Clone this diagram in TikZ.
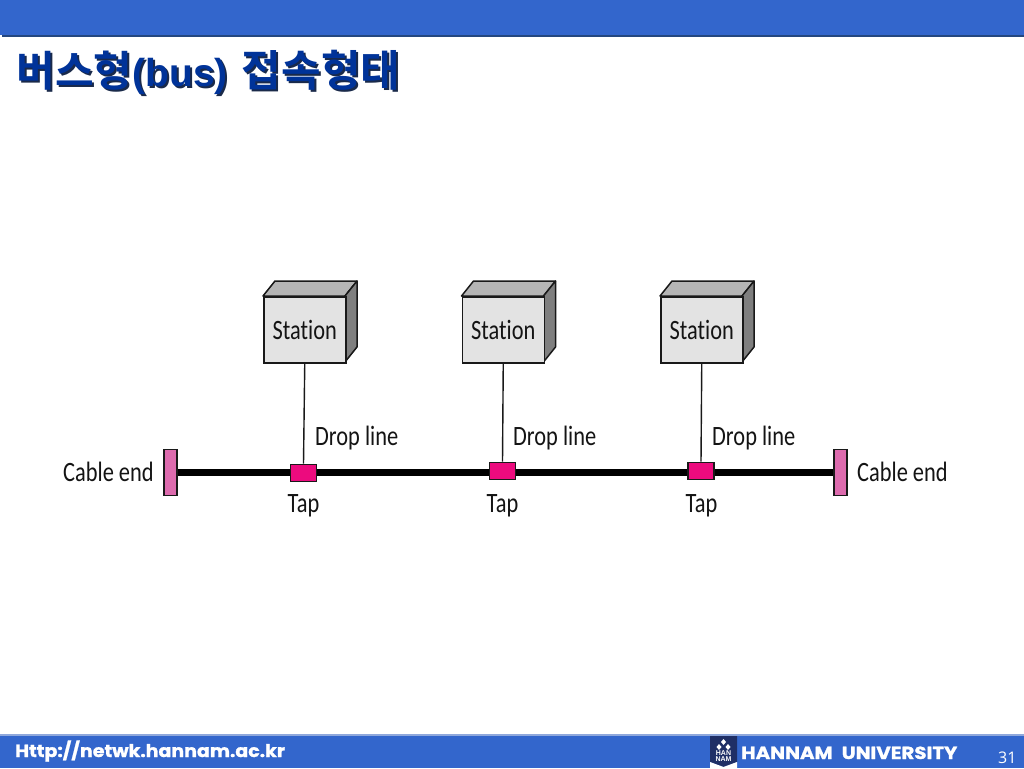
\documentclass[tikz,border=0pt]{standalone}
\usepackage{fontspec}
\setmainfont{Carlito}[FakeStretch=0.8,Ligatures=NoCommon]
\newfontfamily\krfont{Noto Sans CJK KR}[BoldFont={* Bold}]
\newfontfamily\arialfont{Liberation Sans}
\newfontfamily\footfont{Poppins}[BoldFont={* Bold},BoldFeatures={FakeBold=1.2,FakeStretch=1.085}]
\newfontfamily\unifont{Poppins}[BoldFont={* Bold},BoldFeatures={FakeBold=1.2,FakeStretch=1.13}]
\newfontfamily\numfont{Open Sans}
\definecolor{band}{HTML}{3366CC}
\definecolor{bandedge}{HTML}{24477F}
\definecolor{footedge}{HTML}{8FA8DC}
\definecolor{titleblue}{HTML}{003399}
\definecolor{titleshadow}{HTML}{1A2A4A}
\definecolor{boxfront}{HTML}{E3E3E3}
\definecolor{boxtop}{HTML}{B5B5B5}
\definecolor{boxside}{HTML}{7F7F7F}
\definecolor{tapfill}{HTML}{EC0B7E}
\definecolor{endfill}{HTML}{DD6BAE}
\definecolor{logonavy}{HTML}{1F2F66}
\tikzset{
  x=1pt,y=-1pt,
  lbl/.style={font=\fontsize{28}{28}\selectfont,text=black!92,inner sep=0pt,anchor=base west},
  frontbox/.style={draw=black!90,line width=1.5pt,fill=boxfront,minimum width=82pt,minimum height=66pt,inner sep=0pt,font=\fontsize{28}{28}\selectfont,text=black!92},
  tapbox/.style={draw=black!90,line width=1.3pt,fill=tapfill,minimum width=26pt,minimum height=17pt,inner sep=0pt},
  endbox/.style={draw=black!90,line width=1.3pt,fill=endfill,minimum width=13pt,minimum height=46pt,inner sep=0pt},
  busline/.style={line width=7.5pt,draw=black},
  dropline/.style={line width=1.4pt,draw=black!90},
  titletext/.style={inner sep=0pt,anchor=base west},
}
\newcommand{\titlestr}{{\krfont\bfseries\fontsize{42}{42}\selectfont 버스형}{\arialfont\bfseries\fontsize{39}{39}\selectfont (bus)\hspace{14pt}}{\krfont\bfseries\fontsize{43}{43}\selectfont 접속형태}}
\newcommand{\stationbox}[3]{% name, x left of front, label
  \fill[boxtop,draw=black!90,line width=1.5pt,line join=round] (#2,296) -- (#2+12,281) -- (#2+94,281) -- (#2+82,296) -- cycle;
  \fill[boxside,draw=black!90,line width=1.5pt,line join=round] (#2+82,296) -- (#2+94,281) -- (#2+94,347) -- (#2+82,362) -- cycle;
  \node[frontbox,anchor=north west] (#1) at (#2,296) {#3};
}
\begin{document}
\begin{tikzpicture}
\useasboundingbox (0,0) rectangle (1024,768);
\fill[white] (0,0) rectangle (1024,768);
% header
\fill[band] (0,0) rectangle (1024,35);
\fill[bandedge] (2,35) rectangle (1024,37);
% title
\node[titletext,text=titleshadow] at (18.5,88.5) {\titlestr};
\node[titletext,text=titleblue] (title) at (16.5,86.5) {\titlestr};
% footer
\fill[footedge] (0,734) rectangle (1024,736);
\fill[band] (0,736) rectangle (1024,768);
\node[inner sep=0pt,anchor=base west,text=white] (url) at (15,757) {\footfont\bfseries\fontsize{17.5}{17.5}\selectfont Http://netwk.hannam.ac.kr};
% logo
\fill[logonavy] (710,736) -- (737,736) -- (737,762) -- (723.5,767) -- (710,762) -- cycle;
\fill[white] (710,762) -- (723.5,767) -- (737,762) -- (737,768) -- (710,768) -- cycle;
\fill[white] (723.5,739) -- (726,742) -- (723.5,745) -- (721,742) -- cycle;
\fill[white] (719,744) -- (721.5,747) -- (719,750) -- (716.5,747) -- cycle;
\fill[white] (728,744) -- (730.5,747) -- (728,750) -- (725.5,747) -- cycle;
\node[inner sep=0pt,text=white,align=center,font=\arialfont\bfseries\fontsize{7}{6.5}\selectfont] (logotext) at (723.5,756) {HAN\\NAM};
\node[inner sep=0pt,anchor=base west,text=white] (uni) at (741,759) {\unifont\bfseries\fontsize{17.5}{17.5}\selectfont HANNAM\hspace{9pt}UNIVERSITY};
\node[inner sep=0pt,anchor=base west,text=white] (page) at (998,763) {\numfont\fontsize{16}{16}\selectfont 31};
% diagram
\node[endbox] (endL) at (170.5,472.5) {};
\node[endbox] (endR) at (840.5,472.5) {};
\draw[busline] (endL.east) -- (endR.west);
\stationbox{s1}{263}{Station}
\stationbox{s2}{461.5}{Station}
\stationbox{s3}{660}{Station}
\node[tapbox] (t1) at (303.5,472.7) {};
\node[tapbox] (t2) at (502.5,470.7) {};
\node[tapbox] (t3) at (701,470.7) {};
\draw[dropline] (s1.south) -- (t1.north);
\draw[dropline] (s2.south) -- (t2.north);
\draw[dropline] (s3.south) -- (t3.north);
\node[lbl] (d1) at (315,445) {Drop line};
\node[lbl] (d2) at (513,445) {Drop line};
\node[lbl] (d3) at (712,445) {Drop line};
\node[lbl,anchor=base] (p1) at (303.5,512.5) {Tap};
\node[lbl,anchor=base] (p2) at (502.5,512.5) {Tap};
\node[lbl,anchor=base] (p3) at (701.5,512.5) {Tap};
\node[lbl] (cl) at (63,481) {Cable end};
\node[lbl] (cr) at (857,481) {Cable end};
\end{tikzpicture}
\end{document}
